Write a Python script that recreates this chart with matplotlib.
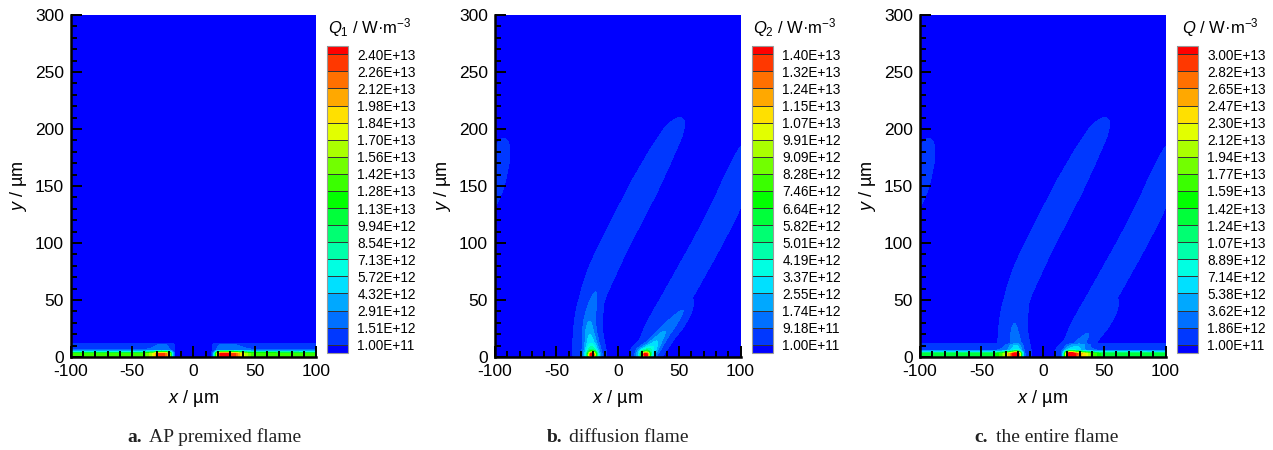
import numpy as np
import matplotlib.pyplot as plt
from matplotlib.colors import LinearSegmentedColormap, ListedColormap, BoundaryNorm

plt.rcParams['font.family'] = ['Liberation Sans', 'DejaVu Sans']
plt.rcParams['mathtext.fontset'] = 'custom'
plt.rcParams['mathtext.rm'] = 'Liberation Sans'
plt.rcParams['mathtext.it'] = 'Liberation Sans:italic'
plt.rcParams['axes.unicode_minus'] = False

# legend levels
levels_q1 = [1.00e11, 1.51e12, 2.91e12, 4.32e12, 5.72e12, 7.13e12, 8.54e12, 9.94e12, 1.13e13,
             1.28e13, 1.42e13, 1.56e13, 1.70e13, 1.84e13, 1.98e13, 2.12e13, 2.26e13, 2.40e13]
levels_q2 = [1.00e11, 9.18e11, 1.74e12, 2.55e12, 3.37e12, 4.19e12, 5.01e12, 5.82e12, 6.64e12,
             7.46e12, 8.28e12, 9.09e12, 9.91e12, 1.07e13, 1.15e13, 1.24e13, 1.32e13, 1.40e13]
levels_q = [1.00e11, 1.86e12, 3.62e12, 5.38e12, 7.14e12, 8.89e12, 1.07e13, 1.24e13, 1.42e13,
            1.59e13, 1.77e13, 1.94e13, 2.12e13, 2.30e13, 2.47e13, 2.65e13, 2.82e13, 3.00e13]

# AP premixed layer on the burning surface: peak heat release along x
x_layer = [-100, -40, -33, -30, -26, -22, -19, -17, -15, 15, 17, 19, 22, 28, 34, 40, 47, 100]
q_layer = [1.30e13, 1.32e13, 1.70e13, 2.20e13, 2.35e13, 2.20e13, 1.40e13, 5.0e12, 0,
           0, 5.0e12, 1.60e13, 2.40e13, 2.45e13, 2.30e13, 1.80e13, 1.40e13, 1.30e13]
# normalised vertical profile of that layer
y_layer = [0, 3, 4.5, 6, 8, 10.5, 12]
f_layer = [1, 1, 0.5, 0.12, 0.09, 0.07, 0]

# diffusion flame sheets: centre line, strength and half width
left_x = [-26, -26, -22, -13, -2, 10, 22, 34, 45, 52]
left_y = [0, 25, 50, 75, 100, 125, 150, 175, 197, 209]
left_q = [6.0e11, 5.5e11, 5.0e11, 5.0e11, 5.0e11, 5.0e11, 5.0e11, 5.0e11, 4.0e11, 1.2e11]
left_w = [8, 8, 8, 9, 9, 9, 9, 8, 7, 5]

right_x = [22, 34, 47, 60, 73, 85, 96, 104, 108]
right_y = [0, 25, 50, 75, 100, 125, 150, 175, 192]
right_q = [6.0e11, 5.5e11, 5.0e11, 5.0e11, 5.0e11, 5.0e11, 5.0e11, 3.0e11, 1.0e11]
right_w = [7, 9, 9, 9, 9, 9, 9, 8, 6]

# brighter tongues rising from the flame feet
ltongue_x = [-21, -22, -23, -23, -21, -18, -16]
ltongue_y = [2, 12, 22, 31, 45, 57, 65]
ltongue_q = [6.0e12, 3.2e12, 2.3e12, 1.75e12, 1.25e12, 9.2e11, 5.0e11]
ltongue_w = [6, 6, 6, 6, 6, 5, 4]

rtongue_x = [22, 28, 33, 38, 46, 53, 57]
rtongue_y = [2, 8, 15, 22, 32, 41, 48]
rtongue_q = [6.0e12, 3.5e12, 2.3e12, 1.75e12, 1.25e12, 9.2e11, 5.0e11]
rtongue_w = [6, 6, 6, 6, 6, 5, 4]

# hot spots at the foot of the diffusion flames
spot_x = [-21, 23]
spot_y = [2, 2]
spot_q = [1.0e13, 1.0e13]

x = np.linspace(-100, 100, 401)
y = np.linspace(0, 300, 601)
X, Y = np.meshgrid(x, y)

# premixed flame field
Q1 = np.interp(X, x_layer, q_layer) * np.interp(Y, y_layer, f_layer)


def sheet(cx, cy, cq, cw, smooth=60):
    n = len(cx)
    t = np.linspace(0, n - 1, 500)
    px = np.interp(t, range(n), cx)
    py = np.interp(t, range(n), cy)
    if smooth:
        ker = np.ones(smooth) / smooth
        px = np.convolve(np.pad(px, smooth // 2, mode='edge'), ker, mode='same')[smooth // 2:-(smooth // 2)]
        py = np.convolve(np.pad(py, smooth // 2, mode='edge'), ker, mode='same')[smooth // 2:-(smooth // 2)]
    pq = np.interp(t, range(n), cq)
    pw = np.interp(t, range(n), cw)
    out = np.zeros_like(X)
    for shift in (-200, 0, 200):  # periodic in x
        for i in range(0, len(t), 2):
            d2 = (X - px[i] - shift) ** 2 + (Y - py[i]) ** 2
            out = np.maximum(out, pq[i] * np.exp(-d2 / pw[i] ** 2))
    return out


Q2 = sheet(left_x, left_y, left_q, left_w) + sheet(right_x, right_y, right_q, right_w)
Q2 = np.maximum(Q2, sheet(ltongue_x, ltongue_y, ltongue_q, ltongue_w, smooth=20))
Q2 = np.maximum(Q2, sheet(rtongue_x, rtongue_y, rtongue_q, rtongue_w, smooth=20))
for sx, sy, sq in zip(spot_x, spot_y, spot_q):
    Q2 += sq * np.exp(-((X - sx) ** 2 / 9.0 + (Y - sy) ** 2 / 6.0))

Q = Q1 + Q2

rainbow = LinearSegmentedColormap.from_list('rb', ['#0000ff', '#00ffff', '#00ff00', '#ffff00', '#ff0000'])
band_colors = [rainbow(i / 18) for i in range(19)]

fields = [Q1, Q2, Q]
all_levels = [levels_q1, levels_q2, levels_q]
titles = [r'$Q_1$ / W·m$^{-3}$', r'$Q_2$ / W·m$^{-3}$', r'$Q$ / W·m$^{-3}$']
captions = [('a.', 'AP premixed flame'), ('b.', 'diffusion flame'), ('c.', 'the entire flame')]
ax_left = [70.7, 495, 920]
cb_left = [327.3, 752.3, 1177.3]
cap_left = [127, 547, 974]

W, H = 1273, 450
fig = plt.figure(figsize=(W / 100, H / 100), dpi=100)

for k in range(3):
    ax = fig.add_axes([ax_left[k] / W, (H - 357) / H, 245.5 / W, 342 / H])
    cmap = ListedColormap(band_colors[1:-1])
    cmap.set_under(band_colors[0])
    cmap.set_over(band_colors[-1])
    norm = BoundaryNorm(all_levels[k], cmap.N)
    cf = ax.contourf(X, Y, fields[k], levels=all_levels[k], cmap=cmap, norm=norm, extend='both')

    ax.set_xlim(-100, 100)
    ax.set_ylim(0, 300)
    ax.set_xticks([-100, -50, 0, 50, 100])
    ax.set_yticks([0, 50, 100, 150, 200, 250, 300])
    ax.set_xticks(np.arange(-100, 101, 10), minor=True)
    ax.set_yticks(np.arange(0, 301, 10), minor=True)
    ax.tick_params(which='both', direction='in', width=1.4, labelsize=12.5, top=False, right=False)
    ax.tick_params(which='major', length=8, pad=5)
    ax.tick_params(which='minor', length=4.5)
    ax.spines['top'].set_visible(False)
    ax.spines['right'].set_visible(False)
    ax.spines['left'].set_linewidth(1.8)
    ax.spines['bottom'].set_linewidth(1.8)
    ax.set_xlabel(r'$x$ / µm', fontsize=13)
    ax.set_ylabel(r'$y$ / µm', fontsize=13)
    ax.xaxis.set_label_coords(0.5, -0.092)
    ax.yaxis.set_label_coords(-0.17, 0.5)

    cax = fig.add_axes([cb_left[k] / W, (H - 353.3) / H, 20.4 / W, 307.6 / H])
    cb = fig.colorbar(cf, cax=cax, extend='both', extendrect=True, extendfrac=0.5 / 17,
                      drawedges=True, ticks=all_levels[k])
    cb.set_ticklabels(['%.2E' % v for v in all_levels[k]])
    cb.ax.tick_params(length=0, labelsize=9.8, pad=7)
    cb.outline.set_edgecolor('#999999')
    cb.outline.set_linewidth(0.8)
    cb.dividers.set_color('#333333')
    cb.dividers.set_linewidth(0.7)
    fig.text((cb_left[k] + 43) / W, 1 - 28 / H, titles[k], fontsize=12, ha='center', va='center')

    fig.text(cap_left[k] / W, 1 - 437 / H, captions[k][0], fontsize=14, fontweight='bold',
             family='Liberation Serif', ha='left', va='center', color='#222222')
    fig.text((cap_left[k] + 22) / W, 1 - 437 / H, captions[k][1], fontsize=14,
             family='Liberation Serif', ha='left', va='center', color='#222222')

fig.savefig('out.png', dpi=100)
